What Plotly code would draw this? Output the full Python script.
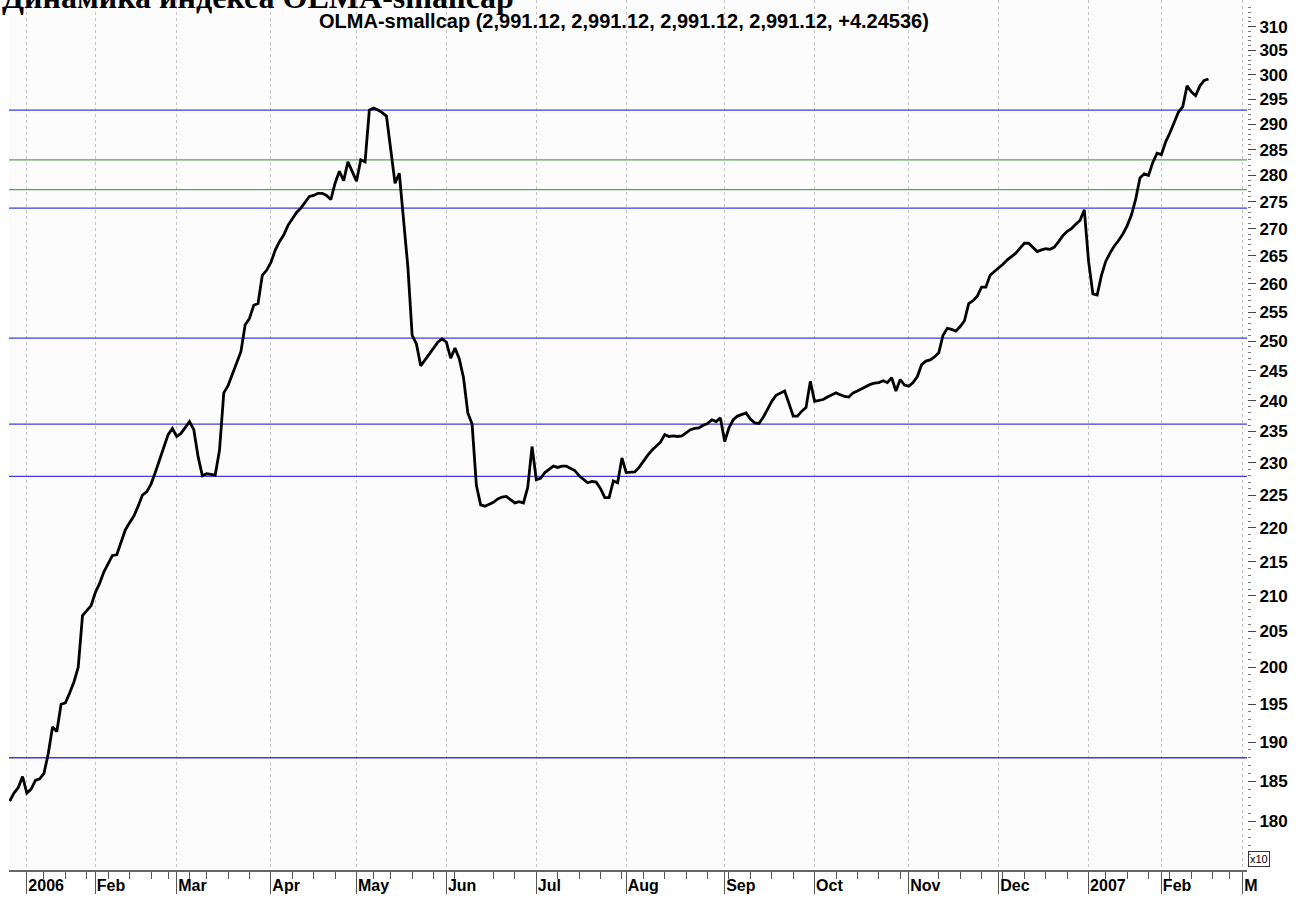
import numpy as np
import pandas as pd
import plotly.graph_objects as go

# ---------------- data ----------------
holidays = [
    "2006-01-02", "2006-01-03", "2006-01-04", "2006-01-05", "2006-01-06", "2006-01-09",
    "2006-02-23", "2006-03-08", "2006-05-01", "2006-05-09", "2006-06-12", "2006-11-06",
    "2007-01-01", "2007-01-02", "2007-01-03", "2007-01-04", "2007-01-05", "2007-01-08",
    "2007-02-23",
]

start_date = "2005-12-27"
end_date = "2007-02-16"

close = [
    # Dec 2005
    182.5, 183.5, 184.2, 185.6,
    # Jan 2006
    183.5, 184.0, 185.1, 185.3, 186.0, 188.5, 192.0, 191.4, 195.0, 195.2, 196.5, 198.0,
    200.0, 207.2, 207.9, 208.6,
    # Feb 2006
    210.5, 211.8, 213.5, 214.8, 215.9, 216.0, 218.0, 219.7, 220.8, 221.8, 223.3, 225.0,
    225.5, 226.7, 228.5, 230.5, 232.7, 234.5, 235.5,
    # Mar 2006
    234.2, 234.7, 235.6, 236.6, 235.3, 231.0, 228.0, 228.3, 228.2, 228.1, 232.0, 241.3,
    242.5, 244.5, 246.5, 248.2, 252.8, 253.9, 256.2, 256.5, 261.5, 262.4,
    # Apr 2006
    263.8, 266.0, 267.6, 268.8, 270.6, 271.8, 273.0, 273.8, 275.0, 276.0, 276.2, 276.6,
    276.6, 276.2, 275.4, 278.5, 280.8, 279.0, 282.6, 280.8,
    # May 2006
    278.9, 283.0, 282.6, 292.8, 293.2, 292.8, 292.3, 291.6, 284.5, 278.5, 280.4, 271.0,
    263.0, 251.0, 249.5, 245.8, 246.8, 247.8, 248.8, 249.8, 250.4,
    # Jun 2006
    249.8, 247.1, 248.8, 247.0, 243.8, 238.0, 236.2, 226.5, 223.5, 223.3, 223.6, 223.9,
    224.4, 224.7, 224.8, 224.3, 223.8, 224.0, 223.8, 226.2, 232.6,
    # Jul 2006
    227.4, 227.6, 228.5, 229.0, 229.5, 229.3, 229.5, 229.5, 229.2, 228.8, 228.0, 227.4,
    226.9, 227.1, 227.0, 226.0, 224.6, 224.6, 227.2, 226.9, 230.8,
    # Aug 2006
    228.5, 228.5, 228.6, 229.3, 230.3, 231.2, 232.0, 232.7, 233.3, 234.5, 234.2, 234.3,
    234.2, 234.3, 234.8, 235.3, 235.5, 235.6, 236.0, 236.3, 236.9, 236.6, 237.2,
    # Sep 2006
    233.4, 235.6, 236.9, 237.5, 237.8, 238.0, 237.0, 236.4, 236.3, 237.3, 238.6, 239.9,
    240.9, 241.3, 241.6, 239.6, 237.5, 237.5, 238.3, 238.9, 243.2,
    # Oct 2006
    239.9, 240.0, 240.2, 240.6, 240.9, 241.3, 241.0, 240.7, 240.6, 241.3, 241.6, 242.0,
    242.3, 242.7, 242.9, 243.0, 243.3, 243.0, 243.8, 241.6, 243.5, 242.6,
    # Nov 2006
    242.4, 243.0, 244.0, 246.0, 246.6, 246.8, 247.3, 248.0, 251.0, 252.2, 252.0, 251.7,
    252.5, 253.5, 256.5, 257.0, 257.8, 259.4, 259.4, 261.5, 262.2,
    # Dec 2006
    262.8, 263.5, 264.3, 264.9, 265.5, 266.4, 267.3, 267.3, 266.5, 265.8, 266.1, 266.3,
    266.2, 266.6, 267.6, 268.7, 269.5, 270.0, 270.8, 271.5, 273.5,
    # Jan 2007
    264.0, 258.2, 258.0, 261.5, 264.0, 265.5, 266.8, 267.8, 269.0, 270.5, 272.5, 275.5,
    279.5, 280.3, 280.0, 282.5, 284.3,
    # Feb 2007
    284.0, 286.5, 288.3, 290.4, 292.4, 293.5, 297.7, 296.5, 295.7, 297.7, 298.8, 299.1,
]

blue_levels = [292.8, 273.8, 250.5, 236.2, 227.9, 188.0]
green_levels = [283.0, 277.3]

tick_dates = ["2006-01-10", "2006-02-01", "2006-03-01", "2006-04-03", "2006-05-02",
              "2006-06-01", "2006-07-03", "2006-08-01", "2006-09-01", "2006-10-02",
              "2006-11-01", "2006-12-01", "2007-01-09", "2007-02-01", "2007-03-01"]
tick_labels = ["2006", "Feb", "Mar", "Apr", "May", "Jun", "Jul", "Aug", "Sep", "Oct",
               "Nov", "Dec", "2007", "Feb", "M"]

y_ticks = list(range(180, 315, 5))

title_text = "Динамика индекса OLMA-smallcap"
header_text = "OLMA-smallcap (2,991.12, 2,991.12, 2,991.12, 2,991.12, +4.24536)"

# ---------------- build ----------------
hol = pd.to_datetime(holidays)
days = pd.bdate_range(start_date, end_date)
days = days[~days.isin(hol)]
assert len(days) == len(close), (len(days), len(close))

x_range = ["2005-12-26 20:00", "2007-03-02 00:00"]

hol_set = set(hol)
mondays = [d for d in pd.date_range("2005-12-26", "2007-03-02", freq="W-MON") if d not in hol_set]

fig = go.Figure()

for lv in blue_levels:
    fig.add_trace(go.Scatter(x=x_range, y=[lv, lv], mode="lines",
                             line=dict(color="rgb(60,60,225)", width=1.4),
                             hoverinfo="skip", showlegend=False))
for lv in green_levels:
    fig.add_trace(go.Scatter(x=x_range, y=[lv, lv], mode="lines",
                             line=dict(color="rgb(90,160,90)", width=1.4),
                             hoverinfo="skip", showlegend=False))

fig.add_trace(go.Scatter(x=days, y=close, mode="lines",
                         line=dict(color="black", width=2.8),
                         showlegend=False, name="OLMA-smallcap"))

fig.update_layout(
    width=1307, height=902,
    margin=dict(l=9, r=60, t=0, b=32, autoexpand=False),
    paper_bgcolor="white",
    plot_bgcolor="#fcfcfc",
    font=dict(family="Liberation Sans, Arial", color="black"),
    showlegend=False,
)

fig.update_xaxes(
    type="date",
    automargin=False,
    range=x_range,
    rangebreaks=[dict(bounds=["sat", "mon"]), dict(values=holidays)],
    tickmode="array",
    tickvals=tick_dates,
    ticktext=tick_labels,
    ticklabelposition="outside right",
    ticks="outside", ticklen=22, tickwidth=1, tickcolor="#555",
    tickfont=dict(family="Liberation Sans, Arial", size=16, color="black", weight="bold"),
    showgrid=True, gridcolor="#c4c4c4", griddash="dot", gridwidth=1,
    showline=True, linecolor="#666", linewidth=2,
    minor=dict(tickvals=mondays, ticks="outside", ticklen=7, tickcolor="#555", showgrid=False),
    zeroline=False,
)

fig.update_yaxes(
    type="log",
    automargin=False,
    range=[np.log10(174.1), np.log10(315.7)],
    side="right",
    tickmode="array",
    tickvals=y_ticks,
    ticktext=[str(v) for v in y_ticks],
    ticks="outside", ticklen=8, tickcolor="#444", tickwidth=1,
    tickfont=dict(family="Liberation Sans, Arial", size=17, color="black", weight="bold"),
    showgrid=False,
    showline=False,
    minor=dict(tickvals=[v for v in range(175, 316) if v % 5 != 0],
               ticks="outside", ticklen=3, tickcolor="#777", showgrid=False),
    zeroline=False,
)

fig.add_annotation(
    text=header_text, xref="paper", yref="paper", x=0.4965, y=0.976,
    xanchor="center", yanchor="middle", showarrow=False,
    font=dict(family="Liberation Sans, Arial", size=20, color="black", weight="bold"),
)

fig.add_annotation(
    text=title_text, xref="paper", yref="paper", x=-0.007, y=1.0,
    xanchor="left", yanchor="bottom", yshift=-17, showarrow=False,
    font=dict(family="Liberation Serif, Times New Roman", size=32, color="black", weight="bold"),
)

fig.add_annotation(
    text="x10", xref="paper", yref="paper", x=1.0, y=0.0,
    xanchor="left", yanchor="bottom", xshift=1, yshift=3, showarrow=False,
    bordercolor="#333", borderwidth=1, borderpad=1,
    font=dict(family="Liberation Sans, Arial", size=11, color="black"),
)

fig.write_html("out.html", config={"displayModeBar": False},
               post_script="document.body.style.margin='0px';")
